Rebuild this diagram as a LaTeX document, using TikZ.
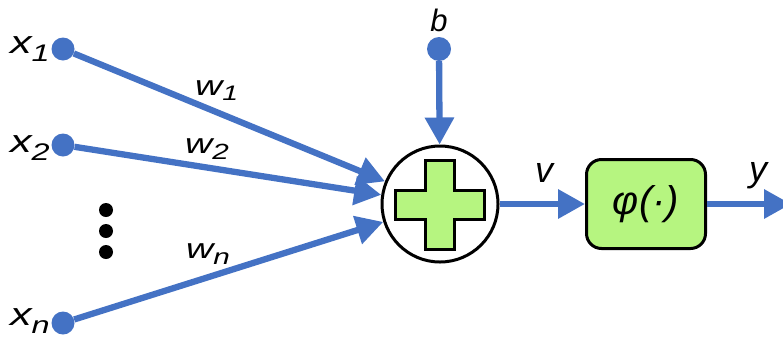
\documentclass[tikz,border=0pt]{standalone}
\usepackage{fontspec}
\setmainfont{Liberation Sans}
\newfontfamily\widefont{Liberation Sans}[FakeStretch=1.35]
\usetikzlibrary{arrows.meta}
\definecolor{lblue}{RGB}{68,114,196}
\definecolor{lgreen}{RGB}{182,245,128}
\tikzset{
  indot/.style={circle, fill=lblue, inner sep=0pt, minimum size=23pt},
  blackdot/.style={circle, fill=black, inner sep=0pt, minimum size=14pt},
  sumnode/.style={circle, draw=black, line width=3pt, fill=white, minimum size=116pt, inner sep=0pt},
  actbox/.style={rectangle, rounded corners=15pt, draw=black, line width=3pt, fill=lgreen, minimum width=119pt, minimum height=89pt, inner sep=0pt},
  link/.style={draw=lblue, line width=6.3pt, -{Triangle[length=27pt,width=28pt]}},
  lab/.style={inner sep=0pt, outer sep=0pt, anchor=base west},
}
\newcommand{\wlab}[5]{{\widefont\itshape\fontsize{#1}{#1}\selectfont #2}\raisebox{-#4pt}{\widefont\itshape\fontsize{#5}{#5}\selectfont #3}}
\begin{document}
\begin{tikzpicture}[x=1pt,y=-1pt]
\useasboundingbox (0,0) rectangle (783,338);
% input dots
\node[indot] (x1) at (63,49) {};
\node[indot] (x2) at (63,145) {};
\node[indot] (xn) at (63,323) {};
\node[indot, minimum size=24pt] (b) at (439,49) {};
% ellipsis
\node[blackdot] (d1) at (106,210) {};
\node[blackdot] (d2) at (106,231) {};
\node[blackdot] (d3) at (106,252) {};
% summing junction
\node[sumnode] (sum) at (440,204) {};
\draw[line width=3pt, fill=lgreen, line join=miter]
  (440-14.5,205-44.5) -- (440+14.5,205-44.5) -- (440+14.5,205-14.5) -- (440+44.5,205-14.5)
  -- (440+44.5,205+14.5) -- (440+14.5,205+14.5) -- (440+14.5,205+44.5) -- (440-14.5,205+44.5)
  -- (440-14.5,205+14.5) -- (440-44.5,205+14.5) -- (440-44.5,205-14.5) -- (440-14.5,205-14.5) -- cycle;
% activation box
\node[actbox] (act) at (646,204) {\itshape\fontsize{40}{40}\selectfont φ(·)};
\coordinate (out) at (791,204);
% connectors
\draw[link] (x1) -- (sum);
\draw[link] (x2) -- (sum);
\draw[link] (xn) -- (sum);
\draw[link] (b) -- (sum);
\draw[link] (sum) -- (act);
\draw[link] (act) -- (out);
% labels
\node[lab] (lx1) at (10,53) {\wlab{32}{x}{1}{8}{24}};
\node[lab] (lx2) at (10,152) {\wlab{32}{x}{2}{8}{24}};
\node[lab] (lxn) at (10,325) {\wlab{32}{x}{n}{8}{24}};
\node[lab] (lw1) at (195,95) {\wlab{28}{w}{1}{5}{21}};
\node[lab] (lw2) at (185,153) {\wlab{28}{w}{2}{6}{22}};
\node[lab] (lwn) at (186,258) {\wlab{28}{w}{n}{6}{22}};
\node[inner sep=0pt, anchor=base] (lb) at (439,31) {\itshape\fontsize{31}{31}\selectfont b};
\node[inner sep=0pt, anchor=base] (lv) at (544,182) {\itshape\fontsize{36}{36}\selectfont v};
\node[inner sep=0pt, anchor=base] (ly) at (758,181) {\itshape\fontsize{36}{36}\selectfont y};
\end{tikzpicture}
\end{document}
